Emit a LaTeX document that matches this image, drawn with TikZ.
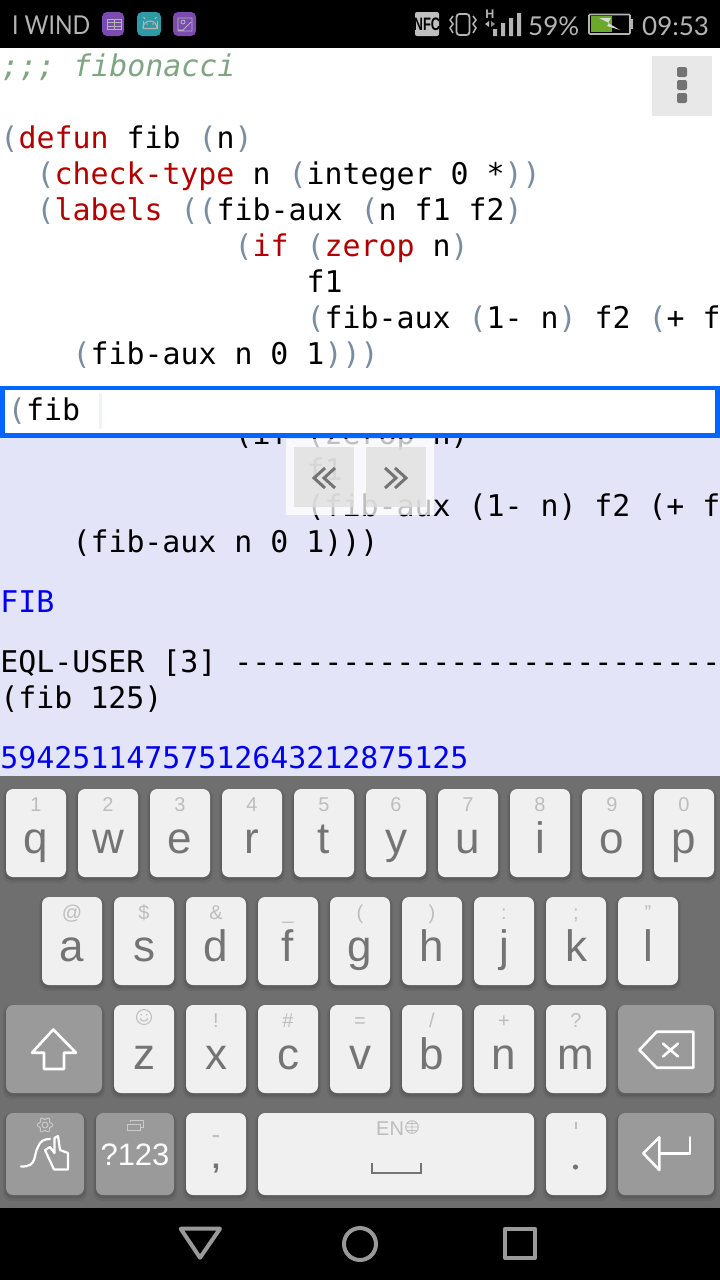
\documentclass[tikz,border=0pt]{standalone}
\usepackage{fontspec}
\setmainfont{Liberation Sans}
\newfontfamily\codef{DejaVu Sans Mono}
\newfontfamily\statf{Lato}
\definecolor{keybg}{HTML}{6F6F6F}
\definecolor{keycap}{HTML}{F0F0F0}
\definecolor{keyfn}{HTML}{9A9A9A}
\definecolor{keytxt}{HTML}{747474}
\definecolor{keysub}{HTML}{BDBDBD}
\definecolor{lav}{HTML}{E4E4F8}
\definecolor{parn}{HTML}{7A8CA0}
\definecolor{kwd}{HTML}{B00000}
\definecolor{cmt}{HTML}{7FA583}
\definecolor{res}{HTML}{0000F0}
\definecolor{sel}{HTML}{0066FF}
\definecolor{stat}{HTML}{B4B4B4}
\definecolor{purp}{HTML}{7B4BAF}
\definecolor{tealb}{HTML}{2E9AA6}
\definecolor{battg}{HTML}{6CA82A}
\newcommand{\pn}[1]{\textcolor{parn}{#1}}
\newcommand{\kw}[1]{\textcolor{kwd}{#1}}
\newcommand{\codeln}[3]{\node[codetxt] at (#1,#2) {#3};}
\newcommand{\capshape}[5]{%
  \fill[black,opacity=.06,rounded corners=8] ({#1-3},{#2}) rectangle ({#3+3},{#4+6});
  \fill[black,opacity=.10,rounded corners=8] ({#1-1.5},{#2+1}) rectangle ({#3+1.5},{#4+3.5});
  \fill[#5,rounded corners=7] (#1,#2) rectangle (#3,#4);}
\newcommand{\kk}[4]{%
  \capshape{#1}{#2}{#1+60}{#2+88}{keycap}
  \node[mainkey] at ({#1+30},{#2+64}) {#3};
  \node[subkey] at ({#1+30},{#2+22}) {#4};}
\tikzset{
  codetxt/.style={anchor=base west,inner sep=0,outer sep=0,font=\codef\fontsize{29.9}{36}\selectfont},
  mainkey/.style={anchor=base,inner sep=0,text=keytxt,font=\fontsize{44}{50}\selectfont},
  subkey/.style={anchor=base,inner sep=0,text=keysub,font=\fontsize{20}{24}\selectfont},
  stattxt/.style={anchor=base west,inner sep=0,text=stat,font=\statf\fontsize{26}{30}\selectfont},
  whiteicon/.style={draw=white,line width=2.6pt,line join=round,line cap=round},
  navicon/.style={draw=black!40!white,line width=4pt,line join=round},
  subicon/.style={draw=keysub,line width=1pt},
}
\begin{document}
\begin{tikzpicture}[x=1pt,y=-1pt]
\useasboundingbox (0,0) rectangle (720,1280);
\begin{scope}
\clip (0,0) rectangle (720,1280);
% backgrounds
\fill[white] (0,48) rectangle (720,386);
\fill[lav] (0,386) rectangle (720,776);
\fill[black] (0,0) rectangle (720,48);
\fill[keybg] (0,776) rectangle (720,1208);
\fill[black] (0,1208) rectangle (720,1280);
% editor
\codeln{1.5}{76}{\itshape\textcolor{cmt}{;;; fibonacci}}
\codeln{0.5}{148}{\pn{(}\kw{defun} fib \pn{(}n\pn{)}}
\codeln{36.5}{184}{\pn{(}\kw{check-type} n \pn{(}integer 0 *\pn{))}}
\codeln{36.5}{220}{\pn{(}\kw{labels} \pn{((}fib-aux \pn{(}n f1 f2\pn{)}}
\codeln{234.5}{256}{\pn{(}\kw{if} \pn{(}\kw{zerop} n\pn{)}}
\codeln{306.5}{292}{f1}
\codeln{306.5}{328}{\pn{(}fib-aux \pn{(}1- n\pn{)} f2 \pn{(}+ f}
\codeln{72.5}{364}{\pn{(}fib-aux n 0 1\pn{)))}}
% menu button
\fill[black!9] (652,56) rectangle (712,116);
\fill[black!55,rounded corners=2] (677,67) rectangle (687,77);
\fill[black!55,rounded corners=2] (677,80) rectangle (687,90);
\fill[black!55,rounded corners=2] (677,93) rectangle (687,103);
% repl
\codeln{234.5}{444}{(if (zerop n)}
\codeln{306.5}{480}{f1}
\codeln{306.5}{516}{(fib-aux (1- n) f2 (+ f}
\codeln{72.5}{552}{(fib-aux n 0 1)))}
\codeln{0.5}{612}{\textcolor{res}{FIB}}
\codeln{0.5}{672}{EQL-USER [3] ---------------------------}
\codeln{0.5}{708}{(fib 125)}
\codeln{0.5}{768}{\textcolor{res}{59425114757512643212875125}}
% input box
\fill[white] (0,386) rectangle (720,438);
\draw[sel,line width=4.6pt] (2.5,388) rectangle (717.5,435.5);
\codeln{8}{420}{\pn{(}fib}
\fill[lav!50!white] (99,393) rectangle (102,429);
% popup
\fill[white,opacity=.75] (286,439) rectangle (434,515);
\fill[black!13,opacity=.75] (294,447) rectangle (354,507);
\fill[black!13,opacity=.75] (366,447) rectangle (426,507);
\draw[keytxt,line width=3pt] (325,468) -- (314,478) -- (325,488);
\draw[keytxt,line width=3pt] (335,468) -- (324,478) -- (335,488);
\draw[keytxt,line width=3pt] (385,468) -- (396,478) -- (385,488);
\draw[keytxt,line width=3pt] (395,468) -- (406,478) -- (395,488);
% status bar
\node[stattxt,xscale=.89,anchor=base west] at (12,34) {I WIND};
\fill[purp,rounded corners=5] (102,12) rectangle (124,36);
\draw[stat,line width=.9pt] (107,19) rectangle (121,29) (107,22.5) -- (121,22.5) (107,26) -- (121,26) (114,19) -- (114,29);
\fill[tealb,rounded corners=5] (137,12) rectangle (161,36);
\draw[stat,line width=1.1pt] (142.5,28.5) -- (157.5,28.5) (143,28) arc (180:360:7) (145,19) -- (143.5,17) (155,19) -- (156.5,17);
\draw[stat,line width=1pt] (143,21) -- (143,28.5) (157,21) -- (157,28.5);
\fill[stat] (147,24) circle (.8) (153,24) circle (.8);
\fill[purp,rounded corners=5] (173,12) rectangle (196,36);
\draw[stat,line width=.9pt] (178,18) rectangle (192,31) (178,30) -- (183,30) -- (191,22) (183,22) circle (2);
\fill[black!25,rounded corners=2] (415,12) rectangle (439,36);
\node[anchor=center,inner sep=0,text=black,xscale=.72,font=\bfseries\fontsize{18}{18}\selectfont] at (427,24.5) {NFC};
\draw[stat,line width=1.8pt,rounded corners=3] (456.5,14) rectangle (469.5,35);
\draw[stat,line width=1.5pt] (453,16) -- (450,20) -- (453,24) -- (450,28) -- (453,33);
\draw[stat,line width=1.5pt] (473,16) -- (476,20) -- (473,24) -- (476,28) -- (473,33);
\node[anchor=base,inner sep=0,text=stat,font=\bfseries\fontsize{12.5}{14}\selectfont] at (490,18) {H};
\fill[stat] (485,24) -- (489,21) -- (489,27) -- cycle;
\fill[black!45] (491,21) -- (491,27) -- (495,24) -- cycle;
\fill[stat] (493,29) rectangle (497,36) (501,23) rectangle (505,36) (509,18) rectangle (513,36) (517,13) rectangle (521,36);
\node[stattxt] at (528,35) {59\%};
\draw[stat,line width=1.6pt,rounded corners=1] (589,14.5) rectangle (630,34);
\fill[stat] (631,19) rectangle (633,29);
\fill[battg] (591,16) rectangle (612,32);
\fill[white!85!black] (599,18) -- (611,18) -- (608,23) -- (620,30) -- (607,26) -- (609,23) -- cycle;
\node[stattxt] at (642,35) {09:53};
% keyboard row 1
\kk{6}{789}{q}{1}\kk{78}{789}{w}{2}\kk{150}{789}{e}{3}\kk{222}{789}{r}{4}\kk{294}{789}{t}{5}
\kk{366}{789}{y}{6}\kk{438}{789}{u}{7}\kk{510}{789}{i}{8}\kk{582}{789}{o}{9}\kk{654}{789}{p}{0}
% row 2
\kk{42}{897}{a}{@}\kk{114}{897}{s}{\$}\kk{186}{897}{d}{\&}\kk{258}{897}{f}{\_}\kk{330}{897}{g}{(}
\kk{402}{897}{h}{)}\kk{474}{897}{j}{:}\kk{546}{897}{k}{;}\kk{618}{897}{l}{"}
% row 3
\capshape{6}{1005}{102}{1093}{keyfn}
\draw[whiteicon] (53.3,1029.5) -- (76,1052.7) -- (64,1052.7) -- (64,1069) -- (44,1069) -- (44,1052.7) -- (32,1052.7) -- cycle;
\kk{114}{1005}{z}{}
\draw[subicon] (144,1017) circle (7.5);
\fill[keysub] (141.3,1014.7) circle (.9) (146.7,1014.7) circle (.9);
\draw[subicon] (140,1018.5) .. controls (142,1022) and (146,1022) .. (148,1018.5);
\kk{186}{1005}{x}{!}\kk{258}{1005}{c}{\#}\kk{330}{1005}{v}{=}\kk{402}{1005}{b}{/}\kk{474}{1005}{n}{+}\kk{546}{1005}{m}{?}
\capshape{618}{1005}{714}{1093}{keyfn}
\draw[whiteicon] (693.3,1031.7) -- (656.7,1031.7) -- (639.3,1050) -- (656.7,1067.7) -- (693.3,1067.7) -- cycle;
\draw[whiteicon] (663,1043.5) -- (678,1056.5) (678,1043.5) -- (663,1056.5);
% row 4
\capshape{6}{1113}{84}{1195}{keyfn}
\draw[keysub!80!white,line width=1pt] plot[domain=0:360,samples=73,smooth] ({45+(6.6+1.1*cos(6*\x))*cos(\x)},{1125+(6.6+1.1*cos(6*\x))*sin(\x)});
\draw[keysub!80!white,line width=1pt] (45,1125) circle (3);
\draw[whiteicon,line width=2.2pt] (21,1166.5) .. controls (38,1167) and (33,1155) .. (38,1147) .. controls (40,1141) and (44,1139) .. (50,1139);
\draw[whiteicon,line width=2.2pt] (54,1169.5) -- (45,1150) -- (50,1147) -- (54.5,1153) -- (54.5,1138) -- (58,1136) -- (60,1150) -- (68,1153) -- (68,1169.5) -- cycle;
\capshape{96}{1113}{174}{1195}{keyfn}
\draw[keysub!80!white,line width=1pt] (130,1122) -- (130,1120.5) -- (143,1120.5) -- (143,1127) -- (140,1127);
\draw[keysub!80!white,line width=1pt] (127,1124) rectangle (140,1130);
\node[anchor=base,inner sep=0,text=white,font=\fontsize{31}{36}\selectfont] at (135,1165) {?123};
\capshape{186}{1113}{246}{1195}{keycap}
\node[anchor=base,inner sep=0,text=keytxt,font=\bfseries\fontsize{30}{32}\selectfont] at (216,1168) {,};
\node[subkey,font=\fontsize{26}{28}\selectfont] at (216,1143.5) {-};
\capshape{258}{1113}{534}{1195}{keycap}
\node[anchor=base west,inner sep=0,text=keysub,font=\fontsize{20}{22}\selectfont] at (376,1135) {EN};
\draw[keysub,line width=.9pt] (412,1127) circle (6.3) (405.7,1127) -- (418.3,1127) (412,1120.7) -- (412,1133.3) (407,1123.5) -- (417,1123.5) (407,1130.5) -- (417,1130.5);
\draw[keytxt,line width=2pt] (372,1163) -- (372,1172.5) -- (420.5,1172.5) -- (420.5,1163);
\capshape{546}{1113}{606}{1195}{keycap}
\fill[keytxt] (575.5,1167) circle (2.6);
\fill[keysub] (574.5,1122) rectangle (577,1129);
\capshape{618}{1113}{714}{1195}{keyfn}
\draw[whiteicon] (690,1137.3) -- (690,1153.3) -- (659.3,1153.3);
\draw[whiteicon] (659.3,1137.3) -- (643.3,1153.3) -- (659.3,1170) -- cycle;
% nav bar
\draw[navicon] (180.7,1228.7) -- (220,1228.7) -- (200,1257.7) -- cycle;
\draw[navicon] (360,1244) circle (16);
\draw[navicon] (505,1228.7) rectangle (535,1258);
\end{scope}
\end{tikzpicture}
\end{document}
